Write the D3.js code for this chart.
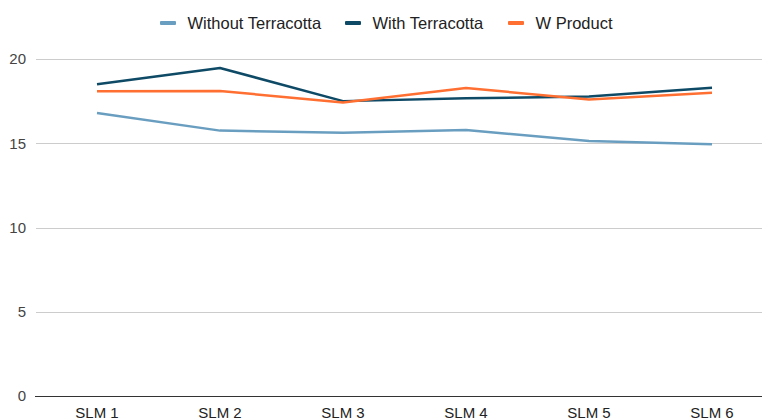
<!DOCTYPE html>
<html>
<head>
<meta charset="utf-8">
<script src="https://cdn.jsdelivr.net/npm/d3@7/dist/d3.min.js"></script>
<style>
  html, body { margin: 0; padding: 0; background: #fff; }
  svg { display: block; font-family: "Liberation Sans", Arial, sans-serif; }
</style>
</head>
<body>
<svg id="chart" width="762" height="420"></svg>
<script>
// Categories along the x axis
const categories = ["SLM 1", "SLM 2", "SLM 3", "SLM 4", "SLM 5", "SLM 6"];

// Series values
const withoutTerracotta = [16.8, 15.75, 15.63, 15.78, 15.14, 14.94];
const withTerracotta    = [18.5, 19.47, 17.5, 17.67, 17.77, 18.3];
const wProduct          = [18.08, 18.1, 17.42, 18.28, 17.6, 18.0];

// Series names and y tick labels
const seriesNames = ["Without Terracotta", "With Terracotta", "W Product"];
const yTicks = [0, 5, 10, 15, 20];

const colors = ["#6a9ec0", "#0e4a66", "#ff6f31"];

const series = [withoutTerracotta, withTerracotta, wProduct].map((vals, i) => ({
  name: seriesNames[i],
  color: colors[i],
  values: vals.map((v, j) => ({ cat: categories[j], v }))
}));

const svg = d3.select("#chart");
const W = 762, H = 420;
const plotLeft = 35.5, plotRight = 773.5, plotTop = 59, plotBottom = 396;

const x = d3.scaleBand().domain(categories).range([plotLeft, plotRight]);
const y = d3.scaleLinear().domain([0, 20]).range([plotBottom, plotTop]);

// Horizontal gridlines
svg.append("g")
  .selectAll("line")
  .data(yTicks.filter(t => t !== 0))
  .join("line")
  .attr("x1", 36).attr("x2", W)
  .attr("y1", d => Math.round(y(d)) + 0.5)
  .attr("y2", d => Math.round(y(d)) + 0.5)
  .attr("stroke", "#cccccc")
  .attr("stroke-width", 1);

// Baseline
svg.append("line")
  .attr("x1", 35).attr("x2", W)
  .attr("y1", Math.round(y(0)) + 0.5).attr("y2", Math.round(y(0)) + 0.5)
  .attr("stroke", "#333333")
  .attr("stroke-width", 1);

// Y axis labels
const yAxis = d3.axisLeft(y).tickValues(yTicks).tickSize(0).tickPadding(0);
const gy = svg.append("g").attr("transform", "translate(26,0)").call(yAxis);
gy.select(".domain").remove();
gy.selectAll("text")
  .attr("font-size", 15)
  .attr("fill", "#444444")
  .attr("font-family", "Liberation Sans, Arial, sans-serif");

// X axis labels
const xAxis = d3.axisBottom(x).tickSize(0).tickPadding(0);
const gx = svg.append("g").attr("transform", "translate(0,407)").call(xAxis);
gx.select(".domain").remove();
gx.selectAll("text")
  .attr("font-size", 15)
  .attr("fill", "#222222")
  .attr("font-family", "Liberation Sans, Arial, sans-serif");

// Lines
const line = d3.line()
  .x(d => x(d.cat) + x.bandwidth() / 2)
  .y(d => y(d.v));

svg.append("g")
  .selectAll("path")
  .data(series)
  .join("path")
  .attr("d", d => line(d.values))
  .attr("fill", "none")
  .attr("stroke", d => d.color)
  .attr("stroke-width", 2.5)
  .attr("stroke-linejoin", "round");

// Legend
const legendX = [160, 345, 508];
const lg = svg.append("g")
  .selectAll("g")
  .data(series)
  .join("g")
  .attr("transform", (d, i) => `translate(${legendX[i]},23)`);
lg.append("rect")
  .attr("x", 0).attr("y", -2)
  .attr("width", 16).attr("height", 4)
  .attr("rx", 1)
  .attr("fill", d => d.color);
lg.append("text")
  .attr("x", 27.5).attr("y", 5.5)
  .attr("font-size", 16.5)
  .attr("fill", "#222222")
  .text(d => d.name);
</script>
</body>
</html>
